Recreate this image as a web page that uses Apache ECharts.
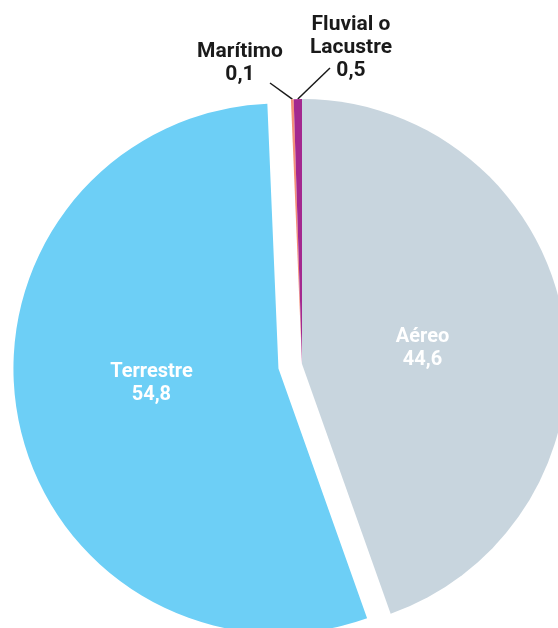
<!DOCTYPE html>
<html>
<head>
<meta charset="utf-8">
<script src="https://cdn.jsdelivr.net/npm/echarts@6/dist/echarts.min.js"></script>
<style>
  html, body { margin: 0; padding: 0; background: #fff; }
  #chart { width: 558px; height: 628px; }
</style>
</head>
<body>
<div id="chart"></div>
<script>
const categories = ["Aéreo", "Terrestre", "Marítimo", "Fluvial o\nLacustre"];
const shares = [44.6, 54.8, 0.1, 0.5];
const colors = ["#c8d5de", "#6dcff6", "#f4907a", "#a3288f"];
const insideLabel = [true, true, false, false];

let chartDom = document.getElementById("chart");
let myChart = echarts.init(chartDom);

function fmt(v) {
  return v.toFixed(1).replace(".", ",");
}

// nudges for the labels, the reference places them by hand
const labelNudge = {
  0: { dx: -13, dy: 8 },
  1: { dx: 6, dy: -11 },
};
const outsideSpot = {
  2: { x: 240, y: 63, end: [270, 83] },
  3: { x: 351, y: 48, end: [330, 68] },
};

let option = {
  animation: false,
  series: [
    {
      type: "pie",
      center: [302, 364],
      radius: [0, 265],
      startAngle: 90,
      clockwise: true,
      minAngle: 0.6,
      selectedMode: "single",
      selectedOffset: 24,
      avoidLabelOverlap: false,
      emphasis: { disabled: true },
      itemStyle: { borderWidth: 0 },
      labelLine: {
        show: true,
        length: 10,
        length2: 10,
        lineStyle: { color: "#1a1a1a", width: 1.5 },
      },
      data: categories.map((name, i) => ({
        name: name,
        value: shares[i],
        selected: i === 1,
        itemStyle: { color: colors[i] },
        select: { itemStyle: { color: colors[i] } },
        label: insideLabel[i]
          ? {
              position: "inside",
              color: "#ffffff",
              fontFamily: "Roboto",
              fontWeight: "bold",
              fontSize: 20,
              lineHeight: 23,
            }
          : {
              position: "outside",
              color: "#1a1a1a",
              fontFamily: "Roboto",
              fontWeight: "bold",
              fontSize: 21,
              lineHeight: 23,
              align: "center",
            },
        labelLine: { show: !insideLabel[i] },
      })),
      label: {
        formatter: function (p) {
          return p.name + "\n" + fmt(p.value);
        },
      },
      labelLayout: function (params) {
        let i = params.dataIndex;
        if (labelNudge[i]) {
          return { dx: labelNudge[i].dx, dy: labelNudge[i].dy };
        }
        let s = outsideSpot[i];
        let start = params.labelLinePoints ? params.labelLinePoints[0] : s.end;
        return {
          x: s.x,
          y: s.y,
          align: "center",
          verticalAlign: "middle",
          labelLinePoints: [start, s.end, s.end],
        };
      },
    },
  ],
};

option && myChart.setOption(option);
</script>
</body>
</html>
